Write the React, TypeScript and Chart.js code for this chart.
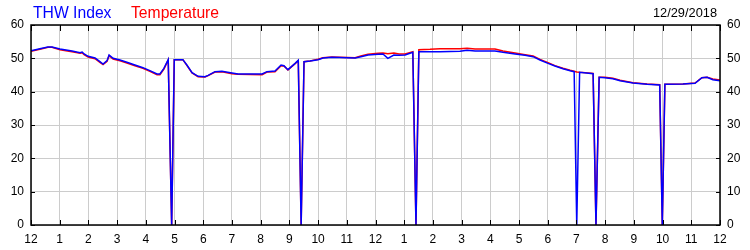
import React, { useEffect, useRef } from "react";
import { Chart, registerables } from "chart.js";

Chart.register(...registerables);

// hours after midnight
const hours = [
  0, 0.31, 0.59, 0.73, 1.01, 1.43, 1.71, 1.78, 1.85, 1.99, 2.23, 2.4, 2.51, 2.65, 2.72, 2.86,
  3.1, 3.34, 3.62, 3.9, 4.14, 4.39, 4.49, 4.63, 4.78, 4.9, 4.99, 5.29, 5.43, 5.61, 5.82,
  6.06, 6.17, 6.41, 6.65, 7.0, 7.21, 8.05, 8.22, 8.5, 8.71, 8.81, 8.95, 9.2, 9.31, 9.41,
  9.51, 9.72, 10.0, 10.17, 10.48, 11.29, 11.49, 11.74, 12.09, 12.26, 12.43, 12.64, 12.82,
  13.03, 13.3, 13.41, 13.51, 13.9, 14.25, 14.94, 15.19, 15.47, 16.16, 16.44, 16.86, 17.21,
  17.49, 17.73, 18.01, 18.25, 18.53, 18.78, 18.92, 19.01, 19.11, 19.58, 19.68, 19.79, 19.99,
  20.27, 20.52, 20.97, 21.46, 21.9, 21.99, 22.08, 22.71, 23.13, 23.37, 23.55, 23.75, 24,
];

const thwIndex = [
  52.3, 52.9, 53.4, 53.4, 52.8, 52.2, 51.7, 51.9, 51.3, 50.6, 50.1, 49.0, 48.3, 49.3, 51.0, 50.0,
  49.5, 48.8, 48.0, 47.2, 46.3, 45.3, 45.3, 47.0, 49.6, 0, 49.6, 49.6, 48.0, 45.7, 44.6,
  44.5, 44.9, 46.0, 46.1, 45.6, 45.3, 45.3, 46.0, 46.2, 48.0, 47.8, 46.6, 48.5, 49.4, 0,
  49.0, 49.2, 49.6, 50.1, 50.3, 50.1, 50.5, 51.0, 51.2, 51.3, 50.0, 51.0, 50.9,
  51.0, 51.8, 0, 52.0, 52.0, 52.0, 52.1, 52.4, 52.2, 52.2, 51.8, 51.3, 50.9,
  50.5, 49.5, 48.5, 47.7, 46.9, 46.3, 46.0, 0, 45.8, 45.4, 0, 44.3, 44.2,
  43.9, 43.3, 42.6, 42.2, 42.0, 0, 42.2, 42.3, 42.5, 44.2, 44.3, 43.6, 43.3,
];

const temperature = [
  52.1, 52.7, 53.3, 53.3, 52.6, 52.0, 51.5, 51.7, 51.1, 50.4, 49.9, 48.8, 48.1, 49.1, 50.8, 49.8,
  49.3, 48.6, 47.8, 47.0, 46.1, 45.1, 45.1, 46.8, 49.5, 0, 49.6, 49.6, 47.9, 45.6, 44.5,
  44.4, 44.8, 45.9, 46.0, 45.4, 45.2, 45.1, 45.9, 46.0, 47.8, 47.7, 46.5, 48.4, 49.3, 0,
  49.0, 49.2, 49.7, 50.2, 50.4, 50.2, 50.7, 51.2, 51.5, 51.6, 51.4, 51.6, 51.3,
  51.3, 52.0, 0, 52.6, 52.7, 52.9, 52.9, 53.0, 52.8, 52.8, 52.2, 51.6, 51.1,
  50.7, 49.7, 48.7, 47.8, 47.0, 46.4, 46.1, 45.9, 45.8, 45.5, 0, 44.3, 44.3,
  44.0, 43.4, 42.7, 42.3, 42.1, 0, 42.2, 42.3, 42.6, 44.2, 44.3, 43.8, 43.5,
];

const hourLabels = ["12", "1", "2", "3", "4", "5", "6", "7", "8", "9", "10", "11", "12", "1", "2", "3", "4", "5", "6", "7", "8", "9", "10", "11", "12"];
const seriesNames = ["THW Index", "Temperature"];
const dateLabel = "12/29/2018";
const yMin = 0;
const yMax = 60;
const yStep = 10;

const FONT = '"Liberation Sans", Arial, Helvetica, sans-serif';
const BLUE = "#0000ff";
const RED = "#ff0000";
const GRID = "#cccccc";

export default function App() {
  const canvasRef = useRef<HTMLCanvasElement | null>(null);

  useEffect(() => {
    const canvas = canvasRef.current;
    if (!canvas) return;

    const overlay = {
      id: "overlay",
      afterDraw(chart: any) {
        const { ctx, chartArea } = chart;
        const { left, right, top, bottom } = chartArea;
        const xs = chart.scales.x;
        const ys = chart.scales.y;
        ctx.save();
        // frame
        ctx.strokeStyle = "#000";
        ctx.lineWidth = 1.5;
        ctx.strokeRect(left, top, right - left, bottom - top);
        // inward ticks
        ctx.lineWidth = 1;
        ctx.beginPath();
        xs.ticks.forEach((t: any) => {
          const px = Math.round(xs.getPixelForValue(t.value)) + 0.5;
          ctx.moveTo(px, bottom);
          ctx.lineTo(px, bottom - 5);
          ctx.moveTo(px, top);
          ctx.lineTo(px, top + 6);
        });
        ys.ticks.forEach((t: any) => {
          const py = Math.round(ys.getPixelForValue(t.value)) + 0.5;
          ctx.moveTo(left, py);
          ctx.lineTo(left + 4, py);
          ctx.moveTo(right, py);
          ctx.lineTo(right - 4, py);
        });
        ctx.stroke();
        // legend & date
        ctx.textBaseline = "alphabetic";
        ctx.font = `15.7px ${FONT}`;
        ctx.textAlign = "left";
        ctx.fillStyle = BLUE;
        ctx.fillText(seriesNames[0], 33, 17.5);
        ctx.fillStyle = RED;
        ctx.fillText(seriesNames[1], 131, 17.5);
        ctx.font = `12.8px ${FONT}`;
        ctx.fillStyle = "#000";
        ctx.textAlign = "right";
        ctx.fillText(dateLabel, 717, 16.7);
        ctx.restore();
      },
    };

    const tickFont = { family: FONT, size: 12 };

    const chart = new Chart(canvas, {
      type: "line",
      data: {
        datasets: [
          {
            label: seriesNames[0],
            data: hours.map((h, i) => ({ x: h, y: thwIndex[i] })),
            borderColor: BLUE,
            backgroundColor: BLUE,
            borderWidth: 1.5,
            pointRadius: 0,
            tension: 0,
            yAxisID: "y",
          },
          {
            label: seriesNames[1],
            data: hours.map((h, i) => ({ x: h, y: temperature[i] })),
            borderColor: RED,
            backgroundColor: RED,
            borderWidth: 1.5,
            pointRadius: 0,
            tension: 0,
            yAxisID: "y",
          },
        ],
      },
      options: {
        animation: false,
        responsive: false,
        maintainAspectRatio: false,
        layout: { padding: { top: 25, left: 0, right: 0, bottom: 0 } },
        plugins: {
          legend: { display: false },
          tooltip: { enabled: false },
          title: { display: false },
        },
        scales: {
          x: {
            type: "linear",
            min: 0,
            max: 24,
            ticks: {
              stepSize: 1,
              autoSkip: false,
              maxRotation: 0,
              padding: 7,
              color: "#000",
              font: tickFont,
              callback: (v: any) => hourLabels[Math.round(Number(v))],
            },
            grid: { color: GRID, drawTicks: false, lineWidth: 1 },
            border: { display: false },
            afterFit: (s: any) => {
              s.height = 25;
            },
          },
          y: {
            position: "left",
            min: yMin,
            max: yMax,
            ticks: { stepSize: yStep, padding: 7, color: "#000", font: tickFont },
            grid: { color: GRID, drawTicks: false, lineWidth: 1 },
            border: { display: false },
            afterFit: (s: any) => {
              s.width = 31;
            },
          },
          y2: {
            position: "right",
            min: yMin,
            max: yMax,
            ticks: { stepSize: yStep, padding: 7, color: "#000", font: tickFont },
            grid: { drawOnChartArea: false, drawTicks: false },
            border: { display: false },
            afterFit: (s: any) => {
              s.width = 30;
            },
          },
        },
      },
      plugins: [overlay],
    });

    return () => chart.destroy();
  }, []);

  return (
    <div style={{ position: "fixed", left: 0, top: 0, width: 750, height: 250, background: "#fff" }}>
      <canvas ref={canvasRef} width={750} height={250} style={{ display: "block", width: 750, height: 250 }} />
    </div>
  );
}
